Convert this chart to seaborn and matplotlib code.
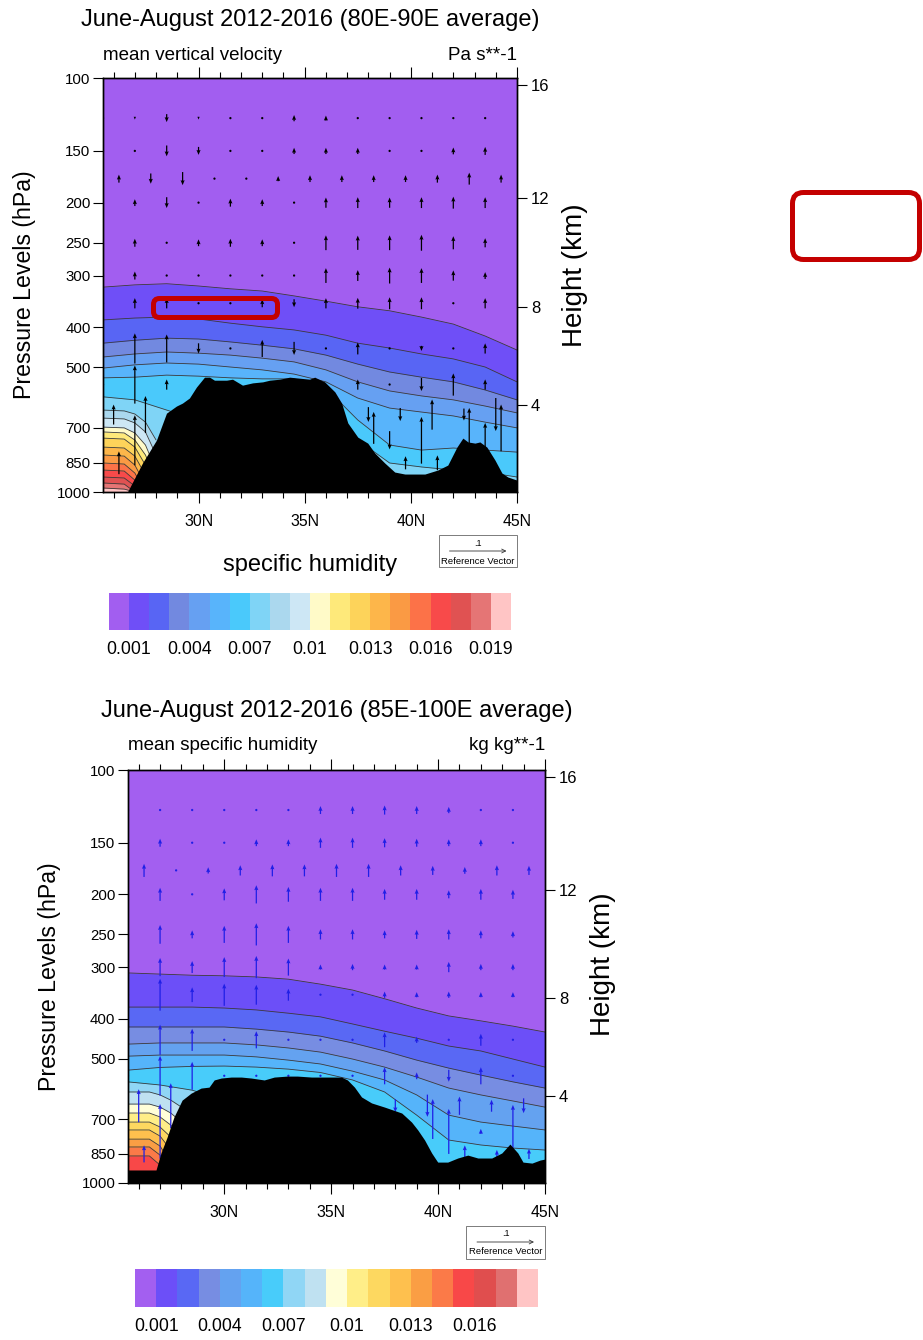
import numpy as np
import matplotlib
matplotlib.use("Agg")
import matplotlib.pyplot as plt
import seaborn as sns
from matplotlib.colors import ListedColormap, BoundaryNorm
from matplotlib.cm import ScalarMappable
from matplotlib.patches import FancyBboxPatch, Rectangle, FancyArrowPatch
from matplotlib.ticker import NullLocator, MultipleLocator
from matplotlib.transforms import IdentityTransform

sns.set_theme(style="ticks")
plt.rcParams["font.family"] = ["Liberation Sans", "DejaVu Sans"]
plt.rcParams["text.color"] = "black"
plt.rcParams["xtick.color"] = "black"
plt.rcParams["ytick.color"] = "black"

W, H = 923, 1340
nan = np.nan

# ---------------- data ----------------
# specific humidity contour levels (kg/kg)
top_levels = [0.001, 0.002, 0.003, 0.004, 0.005, 0.006, 0.007, 0.008, 0.009, 0.010,
              0.011, 0.012, 0.013, 0.014, 0.015, 0.016, 0.017, 0.018, 0.019]
bot_levels = top_levels[:18]

top_colors = ["#A25EF0", "#6F4FF7", "#5865F4", "#7289E0", "#66A0F2", "#58B4FB", "#4AC9FB",
              "#7FD4F6", "#ABD8EE", "#CDE7F5", "#FFFAC8", "#FEE97A", "#FDD35A", "#FDB64A",
              "#FA9A44", "#FC7248", "#F84A4A", "#E05252", "#E57575", "#FFC5C5"]
bot_colors = ["#A35FF0", "#6C4FF8", "#5968F4", "#778DE2", "#64A2F0", "#55B4FA", "#48CCFA",
              "#90D6F5", "#BFE1F1", "#FFFED8", "#FFEE88", "#FDD860", "#FEC04E", "#FA9E44",
              "#FB7A48", "#F84848", "#E04E4E", "#E07070", "#FFC5C5"]

top_cb_ticks = [0.001, 0.004, 0.007, 0.010, 0.013, 0.016, 0.019]
top_cb_labels = ["0.001", "0.004", "0.007", "0.01", "0.013", "0.016", "0.019"]
bot_cb_ticks = [0.001, 0.004, 0.007, 0.010, 0.013, 0.016]
bot_cb_labels = ["0.001", "0.004", "0.007", "0.01", "0.013", "0.016"]

# axes ticks
p_ticks = [100, 150, 200, 250, 300, 400, 500, 700, 850, 1000]
lat_ticks = [30, 35, 40, 45]
lat_labels = ["30N", "35N", "40N", "45N"]
height_km = ["4", "8", "12", "16"]
height_p = [617, 357, 195, 104]

# contour positions: pressure (hPa) of each q contour along latitude
top_lat = [25.5, 27.0, 28.5, 30.0, 31.5, 33.0, 34.5, 36.0, 37.5, 39.0, 40.5, 42.0, 43.5, 45.0]
top_q001 = [320, 316, 314, 318, 323, 327, 336, 346, 357, 365, 378, 393, 420, 454]
top_q002 = [384, 380, 378, 382, 391, 399, 406, 418, 437, 449, 464, 477, 499, 542]
top_q003 = [437, 430, 425, 427, 434, 442, 451, 467, 491, 513, 528, 542, 567, 599]
top_q004 = [472, 464, 459, 462, 467, 475, 485, 507, 542, 570, 586, 599, 620, 644]
top_q005 = [502, 493, 488, 491, 499, 507, 519, 542, 593, 627, 641, 655, 678, 700]
top_q006 = [530, 528, 522, 525, 530, 533, 533, 561, 670, 770, 792, 783, 792, 801]
top_q007 = [589, 599, 634, 670, 670, 670, 670, 670, 749, 851, 870, 885, 895, 920]
top_corner_lat = [25.5, 26.5, 27.0, 27.5, 28.0]
top_q008 = [634, 637, 648, 678, 749]
top_q009 = [663, 666, 681, 716, 814]
top_q010 = [697, 700, 720, 770, 885]
top_q011 = [716, 720, 749, 814, 936]
top_q012 = [741, 745, 779, 861, 989]
top_q013 = [779, 783, 819, 910, 1000]
top_q014 = [814, 819, 861, 962, 1000]
top_q015 = [851, 856, 900, 1000, 1000]
top_q016 = [885, 890, 936, 1000, 1000]
top_q017 = [920, 925, 967, 1000, 1000]
top_q018 = [951, 957, 1000, 1000, 1000]
top_q019 = [978, 984, 1000, 1000, 1000]

bot_lat = top_lat
bot_q001 = [310, 312, 314, 315, 317, 321, 330, 341, 358, 377, 394, 405, 417, 431]
bot_q002 = [375, 375, 375, 377, 381, 388, 396, 412, 429, 446, 466, 479, 501, 524]
bot_q003 = [419, 419, 419, 419, 424, 431, 441, 458, 479, 504, 527, 548, 569, 589]
bot_q004 = [461, 458, 458, 458, 463, 471, 482, 501, 524, 554, 589, 612, 633, 655]
bot_q005 = [493, 490, 490, 490, 495, 504, 515, 536, 563, 612, 685, 712, 728, 744]
bot_q006 = [533, 525, 522, 521, 524, 530, 540, 563, 602, 685, 787, 809, 823, 832]
bot_q007 = [569, 579, 596, 630, 630, 630, 630, 630, 666, 787, 956, 956, 956, 1000]
bot_corner_lat = [25.5, 26.5, 27.0, 27.5, 28.0, 28.5]
bot_q008 = [602, 602, 612, 630, 655, 685]
bot_q009 = [644, 644, 655, 677, 712, 766]
bot_q010 = [677, 677, 692, 724, 774, 856]
bot_q011 = [712, 712, 732, 774, 841, 930]
bot_q012 = [744, 744, 770, 832, 921, 1000]
bot_q013 = [783, 783, 814, 895, 1000, 1000]
bot_q014 = [818, 818, 856, 956, 1000, 1000]
bot_q015 = [860, 860, 905, 1000, 1000, 1000]

# terrain (surface pressure, hPa)
top_terrain_lat = [26.65, 27.36, 28.02, 28.49, 28.96, 29.24, 29.57, 29.90, 30.28, 30.52, 30.75,
                   31.32, 31.60, 32.07, 32.55, 33.02, 33.35, 33.82, 34.29, 34.76, 35.23, 35.47,
                   35.94, 36.42, 36.74, 37.03, 37.50, 37.97, 38.30, 38.77, 39.24, 39.72, 40.66,
                   41.27, 41.74, 42.17, 42.45, 42.69, 43.02, 43.25, 43.58, 43.96, 44.29, 44.57, 45.0]
top_terrain_p = [1000, 851, 749, 645, 620, 610, 593, 558, 528, 528, 537, 537, 534, 552, 545, 542,
                 537, 534, 528, 531, 534, 528, 542, 573, 610, 681, 737, 762, 805, 851, 895, 905,
                 905, 885, 861, 779, 741, 757, 762, 757, 779, 837, 900, 920, 936]
bot_terrain_lat = [25.5, 26.81, 27.04, 27.33, 27.65, 28.03, 28.45, 28.92, 29.29, 29.53, 29.86,
                   30.33, 30.80, 31.26, 31.87, 32.34, 32.95, 33.42, 34.08, 34.69, 35.48, 35.76,
                   36.09, 36.42, 36.89, 37.50, 38.30, 38.76, 39.05, 39.37, 39.70, 39.98, 40.45,
                   40.92, 41.39, 41.86, 42.51, 42.98, 43.36, 43.73, 43.97, 44.39, 44.77, 45.0]
bot_terrain_p = [930, 930, 846, 774, 692, 630, 606, 589, 586, 563, 557, 554, 554, 557, 563, 554,
                 551, 551, 554, 554, 554, 563, 586, 619, 640, 655, 677, 712, 744, 787, 846, 890,
                 890, 870, 856, 870, 870, 846, 805, 846, 890, 895, 880, 875]

# vector grid columns
main_lat = [25.5, 27.0, 28.5, 30.0, 31.5, 33.0, 34.5, 36.0, 37.5, 39.0, 40.5, 42.0, 43.5]
offset_lat = [26.25, 27.75, 29.25, 30.75, 32.25, 33.75, 35.25, 36.75, 38.25, 39.75, 41.25, 42.75, 44.25]
mid_lat = [26.0, 27.5, 29.0, 30.5, 32.0, 33.5, 35.0, 36.5, 38.0, 39.5, 41.0, 42.5, 44.0]

# vertical motion (1e-3 reference units, reference arrow = 0.1; positive = upward)
top_w125 = [1, -5, -14, -5, -2, 1, 11, 9, 2, 2, 2, 2, 2]
top_w150 = [1, 2, -19, -14, -2, 2, 11, 11, 11, 2, 2, 12, 14]
top_w175 = [14, -18, -23, -2, 2, 9, 12, 12, 12, 12, 14, 21, 14]
top_w200 = [5, 12, -19, -2, 14, 12, 4, 18, 19, 18, 19, 21, 19]
top_w250 = [5, 14, 2, 12, 14, 12, 2, 26, 25, 26, 28, 23, 16]
top_w300 = [2, 14, 2, 2, 2, 4, -2, 26, 19, 28, 26, 18, 12]
top_w350 = [2, 18, 18, 2, -2, 14, -14, 18, 19, 21, 21, 2, 18]
top_w450 = [5, 53, 49, -18, -4, 30, -23, 2, 21, 2, -9, -4, 18]
top_w550 = [4, 67, 18, nan, nan, nan, nan, nan, 18, -4, -23, 39, 18]
top_w650 = [35, 65, nan, nan, nan, nan, nan, nan, -26, -23, 53, -21, -58]
top_w700 = [nan, nan, nan, nan, nan, nan, nan, nan, 56, nan, nan, 70, 82]
top_w750 = [nan, 88, nan, nan, nan, nan, nan, nan, nan, -32, 82, nan, 61]
top_w850 = [40, nan, nan, nan, nan, nan, nan, nan, nan, 23, 26, nan, nan]

bot_w125 = [2, 2, 2, 2, 2, 2, 14, 14, 16, 14, 11, 2, 2]
bot_w150 = [2, 14, 2, 2, 12, 12, 18, 18, 16, 14, 12, 12, 2]
bot_w175 = [23, 2, 11, 18, 21, 21, 23, 23, 18, 16, 12, 18, 16]
bot_w200 = [4, 23, 2, 21, 32, 26, 23, 23, 19, 19, 14, 19, 16]
bot_w250 = [4, 33, 14, 30, 39, 30, 18, 18, 14, 16, 18, 14, 11]
bot_w300 = [4, 32, 21, 35, 39, 30, 9, 11, 9, 9, 18, 11, 11]
bot_w350 = [4, 56, 26, 39, 35, 21, -4, 2, 11, 9, 11, 9, 9]
bot_w450 = [4, 53, 39, 2, 30, 2, -4, 2, 26, 11, -4, 21, 2]
bot_w550 = [4, 70, 49, 2, 2, 2, 2, 2, 30, 12, -21, 30, 2]
bot_w650 = [58, 79, nan, nan, nan, nan, nan, nan, -23, -39, 32, 21, -26]
bot_w700 = [nan, nan, nan, nan, nan, nan, nan, nan, nan, 70, nan, nan, nan]
bot_w750 = [nan, 96, nan, nan, nan, nan, nan, nan, nan, nan, 79, 9, 93]
bot_w850 = [30, nan, nan, nan, nan, nan, nan, nan, nan, nan, 30, 14, 18]

top_rows = [(125, main_lat, top_w125), (150, main_lat, top_w150), (175, offset_lat, top_w175),
            (200, main_lat, top_w200), (250, main_lat, top_w250), (300, main_lat, top_w300),
            (350, main_lat, top_w350), (450, main_lat, top_w450), (550, main_lat, top_w550),
            (650, mid_lat, top_w650), (700, offset_lat, top_w700), (750, main_lat, top_w750),
            (850, offset_lat, top_w850)]
bot_rows = [(125, main_lat, bot_w125), (150, main_lat, bot_w150), (175, offset_lat, bot_w175),
            (200, main_lat, bot_w200), (250, main_lat, bot_w250), (300, main_lat, bot_w300),
            (350, main_lat, bot_w350), (450, main_lat, bot_w450), (550, main_lat, bot_w550),
            (650, mid_lat, bot_w650), (700, offset_lat, bot_w700), (750, main_lat, bot_w750),
            (850, offset_lat, bot_w850)]

top_contours = [(top_lat, q) for q in [top_q001, top_q002, top_q003, top_q004, top_q005, top_q006, top_q007]] + \
               [(top_corner_lat, q) for q in [top_q008, top_q009, top_q010, top_q011, top_q012, top_q013,
                                              top_q014, top_q015, top_q016, top_q017, top_q018, top_q019]]
bot_contours = [(bot_lat, q) for q in [bot_q001, bot_q002, bot_q003, bot_q004, bot_q005, bot_q006, bot_q007]] + \
               [(bot_corner_lat, q) for q in [bot_q008, bot_q009, bot_q010, bot_q011, bot_q012, bot_q013,
                                              bot_q014, bot_q015]]


# ---------------- drawing ----------------
def fbox(x0, y0, x1, y1):
    # pixel box (top-left origin) -> figure fraction rect
    return [x0 / W, 1 - y1 / H, (x1 - x0) / W, (y1 - y0) / H]


def draw_panel(ax, colors, contours, terr_lat, terr_p, rows, arrow_color):
    ax.set_facecolor(colors[0])
    for k, (lats, ps) in enumerate(contours, start=1):
        ax.fill_between(lats, ps, 1000, color=colors[k], lw=0, zorder=1)
    for lats, ps in contours:
        sns.lineplot(x=lats, y=ps, ax=ax, color="#3a3a3a", linewidth=0.6,
                     sort=False, estimator=None, zorder=2)
    X, Y, V = [], [], []
    for plev, cols, vals in rows:
        for la, v in zip(cols, vals):
            if not np.isnan(v):
                X.append(la)
                Y.append(plev)
                V.append(v / 1000.0)
    ax.quiver(X, Y, np.zeros(len(V)), V, angles="uv", scale_units="inches",
              scale=0.1 / 0.57, pivot="middle", color=arrow_color, width=0.003,
              headwidth=3.3, headlength=4.0, headaxislength=3.6, minlength=2.0, zorder=3)
    ax.fill_between(terr_lat, terr_p, 1000, color="black", lw=0, zorder=4)

    ax.set_yscale("log")
    ax.set_ylim(1000, 100)
    ax.set_xlim(25.5, 45)
    ax.set_xlabel("")
    ax.set_ylabel("")
    ax.grid(False)
    ax.set_yticks(p_ticks, labels=[str(p) for p in p_ticks])
    ax.yaxis.set_minor_locator(NullLocator())
    ax.set_xticks(lat_ticks, labels=lat_labels)
    ax.xaxis.set_minor_locator(MultipleLocator(1))
    ax.tick_params(axis="x", which="major", length=8, width=0.8, top=True, direction="out",
                   labelsize=11.4, pad=8)
    ax.tick_params(axis="x", which="minor", length=4.3, width=0.8, top=True, direction="out")
    ax.tick_params(axis="y", which="major", length=7, width=0.8, direction="out",
                   labelsize=10.8, pad=2, right=False)
    for s in ax.spines.values():
        s.set_color("black")
        s.set_linewidth(1.0)
        s.set_zorder(6)

    ax2 = ax.twinx()
    ax2.set_yscale("log")
    ax2.set_ylim(1000, 100)
    ax2.set_yticks(height_p, labels=height_km)
    ax2.yaxis.set_minor_locator(NullLocator())
    ax2.tick_params(axis="y", length=7, width=0.8, labelsize=12, pad=3, direction="out")
    ax2.grid(False)
    for s in ax2.spines.values():
        s.set_color("black")
        s.set_linewidth(1.0)


def draw_colorbar(rect, colors, levels, ticks, labels):
    cax = fig.add_axes(rect)
    bounds = [0.0] + levels + [levels[-1] + 0.001]
    norm = BoundaryNorm(bounds, len(colors))
    sm = ScalarMappable(norm=norm, cmap=ListedColormap(colors))
    cb = fig.colorbar(sm, cax=cax, orientation="horizontal", spacing="uniform")
    cb.set_ticks(ticks, labels=labels)
    cb.outline.set_visible(False)
    cax.tick_params(length=0, labelsize=12.7, pad=8)
    cax.xaxis.set_minor_locator(NullLocator())


def ref_vector(x0, y0, x1, y1):
    fig.add_artist(Rectangle((x0 / W, 1 - y1 / H), (x1 - x0) / W, (y1 - y0) / H,
                             transform=fig.transFigure, fill=False, edgecolor="#666666", lw=0.6))
    xc = (x0 + x1) / 2
    fig.text(xc / W, 1 - (y0 + 8) / H, ".1", ha="center", va="center", fontsize=6.5)
    fig.add_artist(FancyArrowPatch(((xc - 28.5) / W, 1 - (y0 + 16) / H), ((xc + 28.5) / W, 1 - (y0 + 16) / H),
                                   transform=fig.transFigure, arrowstyle="->", mutation_scale=7,
                                   lw=0.6, color="#333333", shrinkA=0, shrinkB=0))
    fig.text(xc / W, 1 - (y0 + 26) / H, "Reference Vector", ha="center", va="center", fontsize=6.8)


def red_box(x0, y0, x1, y1, r):
    fig.add_artist(FancyBboxPatch((x0, H - y1), x1 - x0, y1 - y0,
                                  boxstyle=f"round,pad=0,rounding_size={r}",
                                  transform=IdentityTransform(), fill=False,
                                  edgecolor="#C40000", linewidth=3.6, zorder=20))


fig = plt.figure(figsize=(W / 100, H / 100), dpi=100)

ax_top = fig.add_axes(fbox(103, 78, 517, 492))
draw_panel(ax_top, top_colors, top_contours, top_terrain_lat, top_terrain_p, top_rows, "black")
ax_bot = fig.add_axes(fbox(128, 770, 545, 1183))
draw_panel(ax_bot, bot_colors, bot_contours, bot_terrain_lat, bot_terrain_p, bot_rows, "#1f1fe6")

draw_colorbar(fbox(109, 593, 511, 630), top_colors, top_levels, top_cb_ticks, top_cb_labels)
draw_colorbar(fbox(135, 1269, 538, 1307), bot_colors, bot_levels, bot_cb_ticks, bot_cb_labels)

# texts, top panel
fig.text(310 / W, 1 - 20 / H, "June-August 2012-2016 (80E-90E average)", ha="center", va="center", fontsize=17)
fig.text(103 / W, 1 - 56 / H, "mean vertical velocity", ha="left", va="center", fontsize=13.5)
fig.text(517 / W, 1 - 56 / H, "Pa s**-1", ha="right", va="center", fontsize=13.5)
fig.text(25 / W, 1 - 285 / H, "Pressure Levels (hPa)", rotation=90, ha="center", va="center", fontsize=16.7)
fig.text(575 / W, 1 - 275 / H, "Height (km)", rotation=90, ha="center", va="center", fontsize=20)
fig.text(310 / W, 1 - 565 / H, "specific humidity", ha="center", va="center", fontsize=17)
ref_vector(439, 535, 517, 567)

# texts, bottom panel
fig.text(337 / W, 1 - 711 / H, "June-August 2012-2016 (85E-100E average)", ha="center", va="center", fontsize=17)
fig.text(128 / W, 1 - 745 / H, "mean specific humidity", ha="left", va="center", fontsize=13.5)
fig.text(545 / W, 1 - 745 / H, "kg kg**-1", ha="right", va="center", fontsize=13.5)
fig.text(50 / W, 1 - 977 / H, "Pressure Levels (hPa)", rotation=90, ha="center", va="center", fontsize=16.7)
fig.text(603 / W, 1 - 964 / H, "Height (km)", rotation=90, ha="center", va="center", fontsize=20)
ref_vector(466, 1226, 545, 1259)

# highlight boxes
red_box(153.5, 298.5, 277.5, 317.5, 6)
red_box(792.5, 192.5, 919.5, 259.5, 11)

fig.savefig("out.png", dpi=100)
